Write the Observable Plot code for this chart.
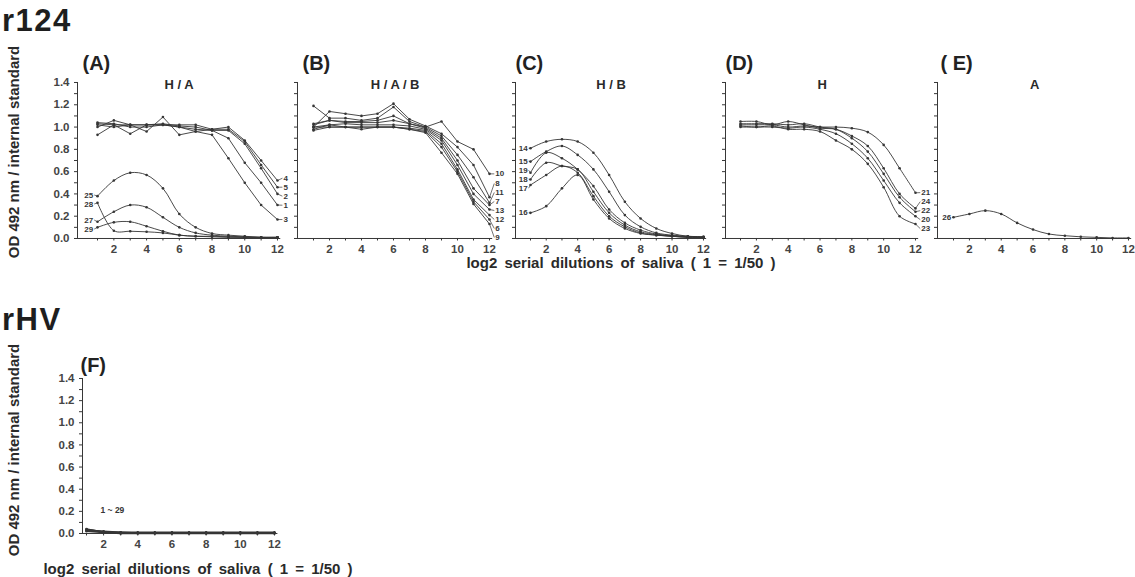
<!DOCTYPE html>
<html><head><meta charset="utf-8">
<script src="https://cdn.jsdelivr.net/npm/d3@7"></script>
<script src="https://cdn.jsdelivr.net/npm/@observablehq/plot@0.6"></script>
<style>
body{margin:0;background:#fff;}
#root{position:relative;width:1135px;height:577px;overflow:hidden;font-family:"Liberation Sans",Arial,sans-serif;color:#222;background:#fff;}
.abs{position:absolute;white-space:nowrap;}
.row{font-weight:bold;font-size:31px;line-height:1;letter-spacing:1.5px;color:#1e1e1e;}
.ytitle{font-weight:bold;font-size:15px;line-height:1;color:#2a2a2a;transform:translate(-50%,-50%) rotate(-90deg);}
.xtitle{font-weight:bold;font-size:15px;line-height:1;word-spacing:3px;color:#2a2a2a;transform:translate(-50%,-50%);}
</style></head><body><div id="root"></div>
<script>
// ---------- data ----------
const dilutions = [1,2,3,4,5,6,7,8,9,10,11,12];
const xTickLabels = [2,4,6,8,10,12];
const yTickLabels = [0,0.2,0.4,0.6,0.8,1.0,1.2,1.4];
const yMinorTicks = [0,0.1,0.2,0.3,0.4,0.5,0.6,0.7,0.8,0.9,1.0,1.1,1.2,1.3,1.4];

// (A) H / A
const aIds = ["1","2","3","4","5"];
const aVals = [
  [1.03,1.02,1.02,1.02,1.03,1.01,1.00,0.97,0.90,0.68,0.50,0.30],
  [1.00,1.06,1.02,1.02,1.02,1.00,0.98,0.97,0.97,0.85,0.63,0.40],
  [0.93,1.02,0.94,1.02,1.02,1.00,0.96,0.93,0.72,0.50,0.30,0.17],
  [1.02,1.00,1.02,0.96,1.09,0.93,0.96,0.98,1.00,0.88,0.70,0.52],
  [1.04,1.03,1.00,1.00,1.02,1.02,1.02,0.98,0.98,0.87,0.66,0.46]
];
const aLowIds = ["25","28","27","29"];
const aLowVals = [
  [0.38,0.52,0.59,0.57,0.45,0.22,0.10,0.045,0.03,0.02,0.01,0.01],
  [0.32,0.07,0.065,0.06,0.05,0.03,0.02,0.02,0.015,0.01,0.01,0.01],
  [0.15,0.24,0.30,0.28,0.19,0.10,0.05,0.03,0.02,0.015,0.01,0.01],
  [0.10,0.145,0.15,0.11,0.065,0.03,0.02,0.015,0.01,0.01,0.01,0.01]
];
// (B) H / A / B
const bIds = ["10","8","11","7","13","12","6","9"];
const bVals = [
  [1.03,1.06,1.05,1.05,1.06,1.10,1.03,1.00,1.05,0.87,0.80,0.58],
  [1.00,1.14,1.12,1.10,1.12,1.21,1.07,1.01,0.94,0.82,0.66,0.37],
  [1.19,1.08,1.08,1.06,1.08,1.18,1.05,1.00,0.92,0.75,0.55,0.32],
  [1.02,1.06,1.04,1.04,1.04,1.06,1.03,0.99,0.90,0.70,0.45,0.30],
  [1.00,1.02,1.03,1.02,1.02,1.02,1.01,0.98,0.88,0.66,0.40,0.26],
  [0.98,1.02,1.00,1.00,1.00,1.00,0.99,0.97,0.85,0.62,0.35,0.21],
  [0.97,1.00,1.00,0.98,1.00,1.00,0.98,0.96,0.82,0.60,0.33,0.17],
  [1.00,1.00,1.00,1.00,1.00,1.00,0.98,0.95,0.77,0.58,0.31,0.13]
];
// (C) H / B
const cIds = ["14","15","19","18","17","16"];
const cVals = [
  [0.81,0.87,0.89,0.87,0.77,0.57,0.33,0.18,0.09,0.045,0.02,0.015],
  [0.69,0.78,0.83,0.75,0.62,0.42,0.21,0.105,0.05,0.03,0.02,0.015],
  [0.59,0.77,0.72,0.62,0.47,0.26,0.14,0.075,0.04,0.025,0.015,0.01],
  [0.53,0.68,0.65,0.62,0.42,0.23,0.12,0.06,0.035,0.02,0.015,0.01],
  [0.48,0.57,0.65,0.59,0.38,0.20,0.105,0.05,0.03,0.02,0.01,0.01],
  [0.23,0.29,0.45,0.57,0.35,0.18,0.09,0.045,0.03,0.02,0.01,0.01]
];
// (D) H
const dIds = ["21","24","22","20","23"];
const dVals = [
  [1.02,1.02,1.02,1.00,1.01,1.00,1.00,0.99,0.955,0.84,0.63,0.41],
  [1.05,1.05,1.02,1.05,1.02,0.99,0.98,0.92,0.83,0.63,0.40,0.27],
  [1.03,1.03,1.03,1.02,1.03,1.00,0.98,0.90,0.78,0.58,0.37,0.24],
  [1.00,1.00,1.00,0.99,1.00,0.98,0.94,0.85,0.72,0.52,0.32,0.20],
  [1.01,1.00,1.01,0.98,0.98,0.96,0.88,0.80,0.67,0.46,0.20,0.13]
];
// (E) A
const eIds = ["26"];
const eVals = [
  [0.19,0.22,0.25,0.22,0.14,0.08,0.04,0.025,0.015,0.01,0.005,0.005]
];
// (F) rHV, sera 1 ~ 29
const fIds = ["f1","f2","f3","f4"];
const fVals = [
  [0.04,0.01,0.005,0.005,0.005,0.005,0.005,0.005,0.005,0.005,0.005,0.005],
  [0.03,0.02,0.01,0.01,0.01,0.01,0.01,0.01,0.01,0.01,0.01,0.01],
  [0.02,0.01,0,0,0,0,0,0,0,0,0,0],
  [0.035,0.015,0.01,0.005,0.005,0.005,0.005,0.005,0.005,0.005,0.005,0.005]
];
const fNote = "1 ~ 29";

// ---------- helpers ----------
const ink = "#363636";
const font = "'Liberation Sans', Arial, sans-serif";
const root = document.getElementById("root");

function rows(ids, vals) {
  return ids.flatMap((id, i) => vals[i].map((v, j) => ({id, x: dilutions[j], v})));
}
function spread(values, gap) {
  const pos = values.slice();
  const order = d3.range(values.length).sort((i, j) => values[j] - values[i]);
  for (let it = 0; it < 400; it++) {
    for (let k = 0; k < order.length - 1; k++) {
      const a = order[k], b = order[k + 1];
      const d = pos[a] - pos[b];
      if (d < gap) { const m = (gap - d) / 2; pos[a] += m; pos[b] -= m; }
    }
  }
  return pos;
}
function addDiv(cls, text, left, topPx) {
  const el = document.createElement("div");
  el.className = "abs " + cls;
  el.textContent = text;
  el.style.left = left + "px";
  el.style.top = topPx + "px";
  root.appendChild(el);
}

function makePanel(cfg) {
  const {axisLeft, x1px, x12px, zeroY, topY} = cfg;
  const unit = (x12px - x1px) / 11;
  const d0 = 1 - (x1px - axisLeft) / unit;
  const dEnd = 12.2;
  const mL = 50, mR = 40, mT = 45, mB = 30;
  const width = mL + (dEnd - d0) * unit + mR;
  const height = mT + (zeroY - topY) + mB;
  const gap = 9 / (zeroY - topY) * 1.4;
  const marks = [
    Plot.ruleX([d0], {stroke: ink, strokeWidth: 1}),
    Plot.ruleY([0], {stroke: ink, strokeWidth: 1}),
    Plot.axisY({ticks: yMinorTicks, tickSize: 3, tickFormat: () => "", color: ink, label: null}),
    Plot.axisX({ticks: dilutions, tickSize: 2.5, tickFormat: () => "", color: ink, label: null}),
    Plot.axisX({ticks: xTickLabels, tickSize: 0, tickPadding: 6, color: "#444", fontSize: 11.5, fontWeight: "bold", label: null})
  ];
  if (cfg.yLabels) {
    marks.push(Plot.axisY({ticks: yTickLabels, tickSize: 0, tickPadding: 8, tickFormat: d3.format(".1f"), color: "#444", fontSize: 11.5, fontWeight: "bold", label: null}));
  }
  for (const g of cfg.groups) {
    const data = rows(g.ids, g.vals);
    marks.push(Plot.line(data, {x: "x", y: "v", z: "id", curve: g.curve, stroke: ink, strokeWidth: g.sw || 0.9}));
    marks.push(Plot.dot(data, {x: "x", y: "v", r: 1.3, fill: ink}));
    if (g.side) {
      const idx = g.side === "right" ? 11 : 0;
      const ends = g.vals.map(v => v[idx]);
      const pos = spread(ends, gap);
      const lab = g.ids.map((id, i) => ({id, v: ends[i], p: pos[i]}));
      const xs = g.side === "right" ? 12 : 1;
      const xl = g.side === "right" ? 12 + g.lead : 1 - g.lead;
      marks.push(Plot.link(lab, {x1: () => xs, y1: "v", x2: () => xl, y2: "p", stroke: ink, strokeWidth: 0.7}));
      marks.push(Plot.text(lab, {x: () => xl, y: "p", text: "id", textAnchor: g.side === "right" ? "start" : "end",
        dx: g.side === "right" ? 1 : -1, fontSize: 8, fontWeight: "bold", fill: ink}));
    }
  }
  marks.push(Plot.text([cfg.letter], {text: d => d, frameAnchor: "top-left", textAnchor: "start", dx: cfg.letterDx, dy: cfg.letterDy,
    fontSize: 20, fontWeight: "bold", fill: "#222"}));
  if (cfg.sub) {
    marks.push(Plot.text([cfg.sub], {text: d => d, frameAnchor: "top", dy: -3, fontSize: 13, fontWeight: "bold", fill: "#2a2a2a"}));
  }
  if (cfg.note) {
    marks.push(Plot.text([cfg.note], {text: d => d, frameAnchor: "bottom-left", textAnchor: "start", dx: 18, dy: -20,
      fontSize: 8.5, fontWeight: "bold", fill: ink}));
  }
  const svg = Plot.plot({
    width, height, marginLeft: mL, marginRight: mR, marginTop: mT, marginBottom: mB,
    x: {domain: [d0, dEnd], label: null},
    y: {domain: [0, 1.4], label: null},
    style: {background: "transparent", overflow: "visible", fontFamily: font, color: ink},
    marks
  });
  const wrap = document.createElement("div");
  wrap.className = "abs";
  wrap.style.left = (axisLeft - mL) + "px";
  wrap.style.top = (topY - mT) + "px";
  wrap.style.width = width + "px";
  wrap.appendChild(svg);
  root.appendChild(wrap);
}

// ---------- layout ----------
const topRow = {zeroY: 238, topY: 82, letterDy: -27};
makePanel({...topRow, axisLeft: 77, x1px: 97, x12px: 277, letter: "(A)", letterDx: 5, sub: "H / A", yLabels: true,
  groups: [
    {ids: aIds, vals: aVals, curve: "linear", side: "right", lead: 0.3},
    {ids: aLowIds, vals: aLowVals, curve: "catmull-rom", side: "left", lead: 0.2}
  ]});
makePanel({...topRow, axisLeft: 297, x1px: 313, x12px: 489, letter: "(B)", letterDx: 5, sub: "H / A / B",
  groups: [{ids: bIds, vals: bVals, curve: "linear", side: "right", lead: 0.3}]});
makePanel({...topRow, axisLeft: 515, x1px: 530, x12px: 703, letter: "(C)", letterDx: 0, sub: "H / B",
  groups: [{ids: cIds, vals: cVals, curve: "catmull-rom", side: "left", lead: 0.12}]});
makePanel({...topRow, axisLeft: 725, x1px: 740, x12px: 915, letter: "(D)", letterDx: 0, sub: "H",
  groups: [{ids: dIds, vals: dVals, curve: "catmull-rom", side: "right", lead: 0.3}]});
makePanel({...topRow, axisLeft: 937, x1px: 953, x12px: 1128, letter: "( E)", letterDx: 3, sub: "A",
  groups: [{ids: eIds, vals: eVals, curve: "catmull-rom", side: "left", lead: 0.08}]});
makePanel({zeroY: 533, topY: 378, letterDy: -21, axisLeft: 82, x1px: 86, x12px: 274, letter: "(F)", letterDx: -2, yLabels: true, note: fNote,
  groups: [{ids: fIds, vals: fVals, curve: "linear", sw: 1.6}]});

addDiv("row", "r124", 2, 5);
addDiv("row", "rHV", 2, 304);
addDiv("ytitle", "OD 492 nm / internal standard", 13, 152);
addDiv("ytitle", "OD 492 nm /  internal standard", 13, 450);
addDiv("xtitle", "log2 serial dilutions of saliva ( 1 = 1/50 )", 621, 262);
addDiv("xtitle", "log2 serial dilutions of saliva ( 1 = 1/50 )", 198, 568);
</script></body></html>
